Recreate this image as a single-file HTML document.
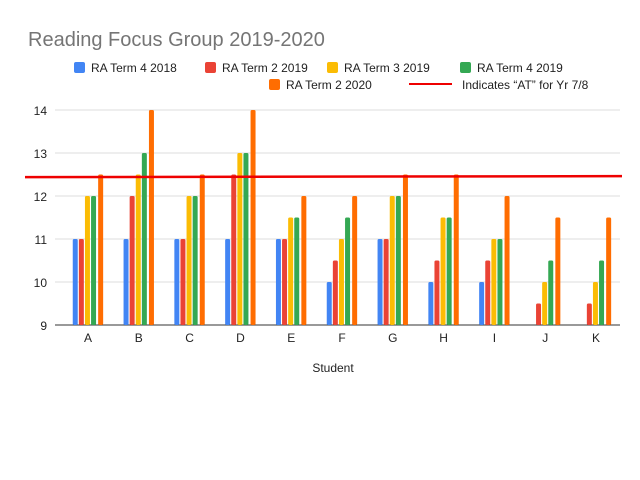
<!DOCTYPE html>
<html><head><meta charset="utf-8"><style>
body{margin:0;background:#fff;font-family:"Liberation Sans",sans-serif}
</style></head><body>
<svg width="640" height="480" id="c" style="display:block">
<rect width="640" height="480" fill="#fff"/>
<text x="28" y="46" font-size="20" fill="#757575">Reading Focus Group 2019-2020</text>
<g font-size="12" fill="#222">
<rect x="74" y="62" width="11" height="11" rx="2" fill="#4285f4"/>
<text x="91" y="72">RA Term 4 2018</text>
<rect x="205" y="62" width="11" height="11" rx="2" fill="#ea4335"/>
<text x="222" y="72">RA Term 2 2019</text>
<rect x="327" y="62" width="11" height="11" rx="2" fill="#fbbc04"/>
<text x="344" y="72">RA Term 3 2019</text>
<rect x="460" y="62" width="11" height="11" rx="2" fill="#34a853"/>
<text x="477" y="72">RA Term 4 2019</text>
<rect x="269" y="79" width="11" height="11" rx="2" fill="#ff6d01"/>
<text x="286" y="89">RA Term 2 2020</text>
<line x1="409" y1="84" x2="452" y2="84" stroke="#e00" stroke-width="2"/>
<text x="462" y="89">Indicates “AT” for Yr 7/8</text>
</g>
<g id="plot"></g>
<text x="333" y="372" font-size="12" fill="#222" text-anchor="middle">Student</text>
</svg>
<script>
const categories=["A","B","C","D","E","F","G","H","I","J","K"];
const seriesNames=["RA Term 4 2018","RA Term 2 2019","RA Term 3 2019","RA Term 4 2019","RA Term 2 2020"];
const s2018T4=[11,11,11,11,11,10,11,10,10,null,null];
const s2019T2=[11,12,11,12.5,11,10.5,11,10.5,10.5,9.5,9.5];
const s2019T3=[12,12.5,12,13,11.5,11,12,11.5,11,10,10];
const s2019T4=[12,13,12,13,11.5,11.5,12,11.5,11,10.5,10.5];
const s2020T2=[12.5,14,12.5,14,12,12,12.5,12.5,12,11.5,11.5];
const yTicks=[9,10,11,12,13,14];
const atLevel=12.45;
(function(){
const colors=["#4285f4","#ea4335","#fbbc04","#34a853","#ff6d01"];
const series=[s2018T4,s2019T2,s2019T3,s2019T4,s2020T2];
const NS="http://www.w3.org/2000/svg";
const g=document.getElementById("plot");
const plotL=55,plotR=620,yMin=9,yMax=14,plotTop=110,plotBot=325;
const yS=v=>plotBot-(v-yMin)/(yMax-yMin)*(plotBot-plotTop);
const firstC=88,lastC=596;
const step=(lastC-firstC)/(categories.length-1);
const xc=i=>firstC+step*i;
function mk(t,a){const e=document.createElementNS(NS,t);for(const k in a)e.setAttribute(k,a[k]);g.appendChild(e);return e;}
yTicks.forEach(t=>{
  const l=mk("line",{x1:plotL,x2:plotR,y1:yS(t),y2:yS(t),stroke:t===yMin?"#333":"#ddd","stroke-width":1});
  
  
  const tx=mk("text",{x:plotL-8,y:yS(t)+5,"font-size":12,fill:"#222","text-anchor":"end"});
  tx.textContent=t;
  
  
});
const bw=5,bs=6.1;
categories.forEach((c,i)=>{
  series.forEach((s,j)=>{
    const v=s[i]; if(v==null) return;
    const x=xc(i)-2.5*bs+j*bs+(j===4?1:0);
    const r=mk("rect",{x:x,y:yS(v),width:bw,height:plotBot-yS(v),fill:colors[j],rx:1.5});
    
    
  });
  const tx=mk("text",{x:xc(i),y:plotBot+17,"font-size":12,fill:"#222","text-anchor":"middle"});
  tx.textContent=c;
  
  
});
const al=mk("line",{x1:25,x2:622,y1:yS(atLevel)+0.5,y2:yS(atLevel)-0.5,stroke:"#e00","stroke-width":2.5});


})();
</script>
</body></html>
